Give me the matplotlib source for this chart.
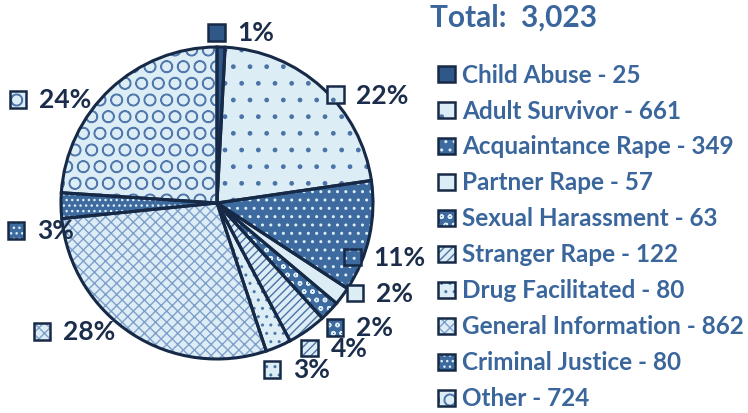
import matplotlib
matplotlib.use("Agg")
import matplotlib.pyplot as plt
from matplotlib.patches import Rectangle

plt.rcParams['font.family'] = ['Lato', 'DejaVu Sans']
plt.rcParams['hatch.linewidth'] = 1.0

# data
categories = ['Child Abuse', 'Adult Survivor', 'Acquaintance Rape', 'Partner Rape',
              'Sexual Harassment', 'Stranger Rape', 'Drug Facilitated',
              'General Information', 'Criminal Justice', 'Other']
counts = [25, 661, 349, 57, 63, 122, 80, 862, 80, 724]
pct_labels = ['1%', '22%', '11%', '2%', '2%', '4%', '3%', '28%', '3%', '24%']
total = sum(counts)

# styles per slice: fill, hatch, hatch colour
DARK = '#162a47'
LIGHT = '#dcedf5'
MID = '#3d6a9f'
HBLUE = '#4a74a8'
fills = ['#2f5787', LIGHT, MID, LIGHT, MID, LIGHT, LIGHT, LIGHT, MID, LIGHT]
hatches = [None, '.', '..', None, 'oo', '////', '..', 'xxx', '...', 'O']
hatch_cols = [DARK, HBLUE, LIGHT, HBLUE, LIGHT, HBLUE, HBLUE, '#7f9fcb', LIGHT, '#5279ad']

# label anchors (marker centre) in pie radius units
label_pos = [(-0.004, 1.094), (0.758, 0.694), (0.867, -0.346), (0.885, -0.577),
             (0.756, -0.797), (0.594, -0.929), (0.353, -1.066), (-1.122, -0.822),
             (-1.288, -0.175), (-1.276, 0.665)]

fig = plt.figure(figsize=(7.48, 4.14), dpi=100)
ax = fig.add_axes([0, 0, 1, 1])

# hatch layer
wedges, _ = ax.pie(counts, startangle=90, counterclock=False, radius=1,
                   wedgeprops=dict(linewidth=0))
for w, fc, h, hc in zip(wedges, fills, hatches, hatch_cols):
    w.set_facecolor(fc)
    w.set_edgecolor(hc)
    w.set_hatch(h)
    w.set_linewidth(0)

# outline layer
ax.pie(counts, startangle=90, counterclock=False, radius=1,
       wedgeprops=dict(facecolor='none', edgecolor=DARK, linewidth=2.2))

ax.set_xlim(-217 / 156, 531 / 156)
ax.set_ylim(-210 / 156, 204 / 156)
ax.set_aspect('equal')
ax.axis('off')

MS = 0.107  # marker size


def marker(x, y, i):
    r = Rectangle((x - MS / 2, y - MS / 2), MS, MS, facecolor=fills[i],
                  edgecolor=hatch_cols[i], hatch=hatches[i], linewidth=0)
    ax.add_patch(r)
    ax.add_patch(Rectangle((x - MS / 2, y - MS / 2), MS, MS, facecolor='none',
                           edgecolor=DARK, linewidth=1.8))


# percentage labels
for i, (x, y) in enumerate(label_pos):
    marker(x, y, i)
    ax.text(x + 0.135, y, pct_labels[i], fontsize=19, fontweight='bold',
            color='#1b2d4a', va='center', ha='left')

# legend
TXT = '#3a669c'
lx, ly0, dy = 1.471, (204 - 75) / 156, 36 / 156
for i, (cat, n) in enumerate(zip(categories, counts)):
    y = ly0 - i * dy
    marker(lx, y, i)
    ax.text(lx + 0.1, y, f'{cat} - {n}', fontsize=17.5, fontweight='bold',
            color=TXT, va='center', ha='left')

ax.text((430 - 217) / 156, (204 - 18) / 156, f'Total:  {total:,}', fontsize=21.5,
        fontweight='bold', color=TXT, va='center', ha='left')

fig.savefig('out.png', dpi=100)
